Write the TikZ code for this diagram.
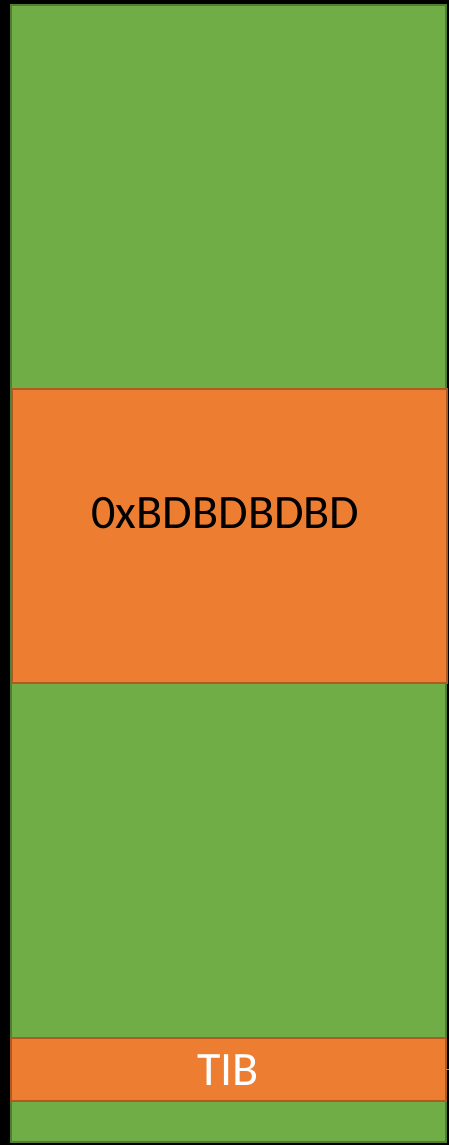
\documentclass[tikz,border=0pt]{standalone}
\usepackage{fontspec}
\setmainfont{Carlito}
\definecolor{gfill}{HTML}{70AD47}
\definecolor{gline}{HTML}{507E32}
\definecolor{ofill}{HTML}{ED7D31}
\definecolor{oline}{HTML}{AE5A21}
\tikzset{
  greenbox/.style={fill=gfill,draw=gline,line width=2pt},
  orangebox/.style={fill=ofill,draw=oline,line width=2pt},
  lbl/.style={font=\fontsize{48}{57}\selectfont}
}
\begin{document}
\begin{tikzpicture}[x=1pt,y=-1pt]
\fill[black] (0,0) rectangle (449,1145);
\useasboundingbox (0,0) rectangle (449,1145);
\draw[greenbox] (11,5) rectangle (446,1142);
\draw[orangebox] (12,389) rectangle (447,683);
\draw[orangebox] (11,1038) rectangle (446,1101);
\node[lbl,text=black] (hex) at (225.5,513) {0xBDBDBDBD};
\node[lbl,text=white] (tib) at (228,1070) {TIB};
\draw[gfill,line width=1pt] (446,1069) -- (449,1069);
\end{tikzpicture}
\end{document}
